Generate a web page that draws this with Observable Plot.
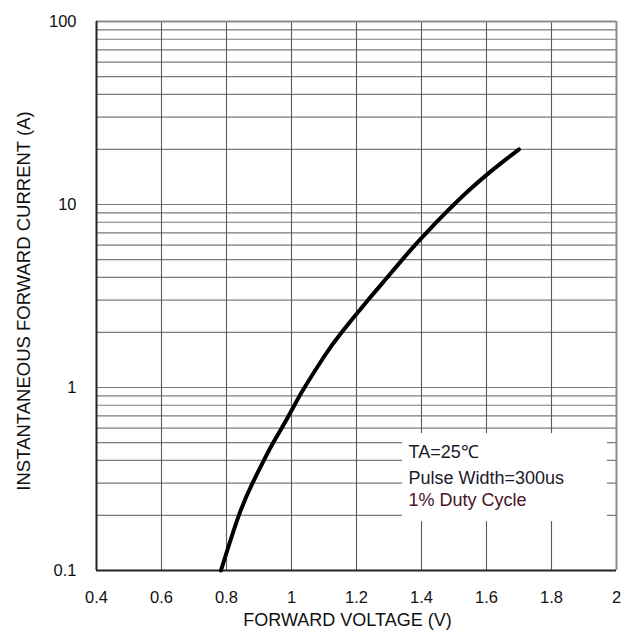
<!DOCTYPE html>
<html>
<head>
<meta charset="utf-8">
<script src="https://cdn.jsdelivr.net/npm/d3@7"></script>
<script src="https://cdn.jsdelivr.net/npm/@observablehq/plot@0.6"></script>
<style>
  html, body { margin: 0; padding: 0; background: #fff; }
  #chart svg { display: block; }
</style>
</head>
<body>
<div id="chart"></div>
<script>
// Forward voltage (V) vs instantaneous forward current (A)
const voltage = [0.783, 0.838, 0.880, 0.915, 0.944, 0.970, 1.009, 1.040, 1.103, 1.154, 1.235, 1.295, 1.341, 1.380, 1.415, 1.446, 1.474, 1.500, 1.547, 1.604, 1.648, 1.700];
const current = [0.1, 0.2, 0.3, 0.4, 0.5, 0.6, 0.8, 1.0, 1.5, 2, 3, 4, 5, 6, 7, 8, 9, 10, 12, 14.7, 17.0, 20];

const xTicks = [0.4, 0.6, 0.8, 1.0, 1.2, 1.4, 1.6, 1.8, 2.0];
const xTickLabels = ["0.4", "0.6", "0.8", "1", "1.2", "1.4", "1.6", "1.8", "2"];
const yTicks = [0.1, 1, 10, 100];
const yTickLabels = ["0.1", "1", "10", "100"];
const decades = [0.1, 1, 10];
const minorMultipliers = [2, 3, 4, 5, 6, 7, 8, 9];

const xLabel = "FORWARD VOLTAGE (V)";
const yLabel = "INSTANTANEOUS FORWARD CURRENT (A)";

// annotation box (data coordinates) and its text lines
const noteBox = [{x1: 1.342, x2: 1.972, y1: 0.185, y2: 0.56}];
const noteLines = ["TA=25℃", "Pulse Width=300us", "1% Duty Cycle"];
const noteY = [0.444, 0.318, 0.241];
const noteColors = ["#1a1a28", "#1a1a28", "#4a1426"];
const noteX = 1.36;

const data = voltage.map((v, i) => ({v, i: current[i]}));
const minorLines = decades.flatMap(d => minorMultipliers.map(m => d * m)).concat([1, 10]);
const vGrid = xTicks.slice(1, -1);
const notes = noteLines.map((t, k) => ({t, y: noteY[k], c: noteColors[k]}));

const font = "'Liberation Sans', Arial, sans-serif";

const chart = Plot.plot({
  width: 635,
  height: 639,
  marginLeft: 96,
  marginRight: 19,
  marginTop: 21,
  marginBottom: 69,
  style: {fontFamily: font, fontSize: "16.5px", color: "#111", background: "#fff"},
  x: {domain: [0.4, 2.0], ticks: xTicks, tickFormat: d => xTickLabels[xTicks.findIndex(t => Math.abs(t - d) < 1e-9)], tickSize: 0, tickPadding: 21, label: null},
  y: {type: "log", domain: [0.1, 100], ticks: yTicks, tickFormat: d => yTickLabels[yTicks.findIndex(t => Math.abs(t - d) < 1e-9 * t)], tickSize: 0, tickPadding: 20, label: null},
  marks: [
    Plot.ruleY(minorLines, {stroke: "#7a7a7a", strokeWidth: 1.2}),
    Plot.ruleX(vGrid, {stroke: "#5a5a5a", strokeWidth: 1.1}),
    Plot.rect(noteBox, {x1: "x1", x2: "x2", y1: "y1", y2: "y2", fill: "#fff"}),
    Plot.ruleX([2.0], {stroke: "#8c8c8c", strokeWidth: 2}),
    Plot.ruleY([100], {stroke: "#8c8c8c", strokeWidth: 2}),
    Plot.ruleX([0.4], {stroke: "#222", strokeWidth: 2}),
    Plot.ruleY([0.1], {stroke: "#222", strokeWidth: 2}),
    Plot.line(data, {x: "v", y: "i", stroke: "#000", strokeWidth: 4, curve: "natural", strokeLinecap: "round"}),
    Plot.text(notes, {x: () => noteX, y: "y", text: "t", fill: "c", textAnchor: "start", fontSize: 18, fontFamily: font}),
    Plot.text([xLabel], {frameAnchor: "bottom", textAnchor: "middle", lineAnchor: "middle", dy: 50, dx: -9, fontSize: 18, fill: "#111", fontFamily: font}),
    Plot.text([yLabel], {frameAnchor: "left", textAnchor: "middle", lineAnchor: "middle", dx: -72, dy: 5, rotate: -90, fontSize: 18.5, fill: "#111", fontFamily: font})
  ]
});

document.getElementById("chart").appendChild(chart);
</script>
</body>
</html>
